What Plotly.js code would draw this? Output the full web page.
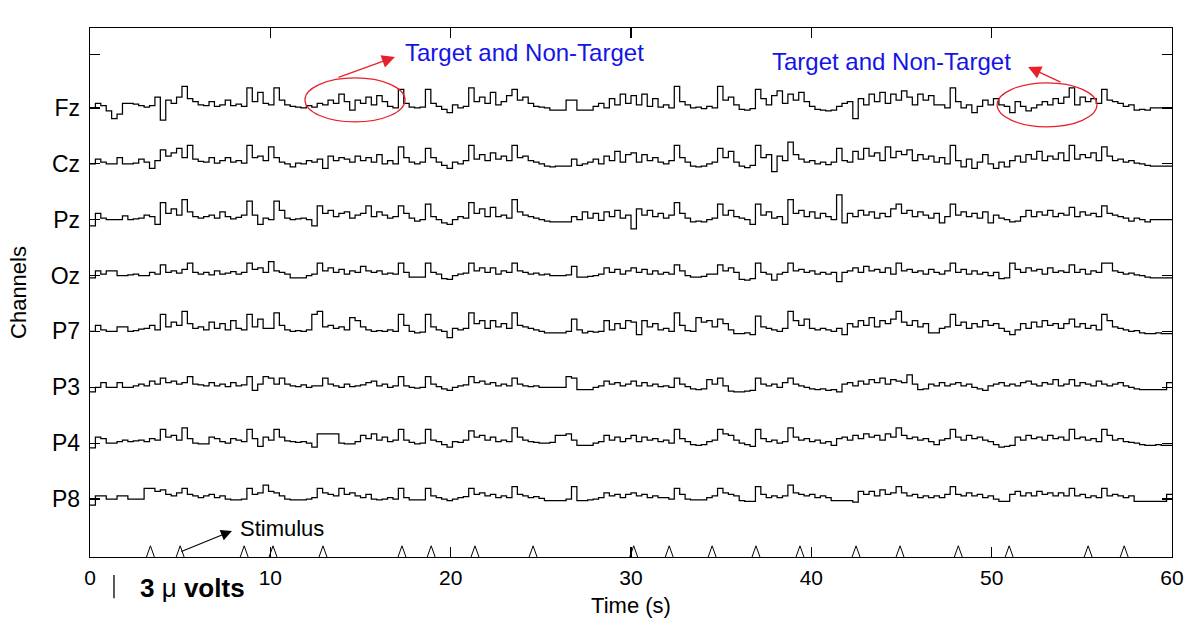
<!DOCTYPE html>
<html><head><meta charset="utf-8">
<script src="https://cdn.plot.ly/plotly-3.0.1.min.js"></script>
<style>html,body{margin:0;padding:0;background:#fff}#chart{width:1200px;height:640px}</style>
</head><body><div id="chart"></div>
<script>
// ---- data (amplitudes in tenths of a microvolt, one sample every 0.3 s) ----
const CHANNELS = ['Fz','Cz','Pz','Oz','P7','P3','P4','P8'];
const SAMPLE_STEP_S = 0.3;
const FZ = [0,6,3,-4,-14,-8,6,6,5,3, 1,3,14,-16,10,6,14,28,12,8, 4,3,8,2,4,10,3,5,2,26, 8,20,6,4,26,10,4,2,1,0,
  3,1,6,4,10,6,18,8,-3,10, 6,14,4,16,8,2,0,24,6,1, 0,1,24,6,2,-2,-6,4,0,2, 26,8,14,6,20,4,8,16,24,10,
  14,6,2,1,0,-3,-3,-3,10,10, -3,-3,-3,2,6,0,12,4,18,6, 16,4,18,2,12,1,4,0,28,8, 4,0,1,-1,2,0,28,10,14,4,
  -2,-3,-1,24,12,4,16,22,6,18, 10,20,8,2,-2,-3,-4,-3,2,6, 8,-14,12,4,18,8,20,6,18,10, 22,14,4,18,10,16,4,4,0,26,
  8,0,4,-6,2,10,4,12,4,2, -6,8,2,-4,0,4,8,4,12,6, 14,26,4,14,8,12,6,24,10,8, 6,2,4,-3,-2,-3,0,0,0,0, 0];
const CZ = [0,6,2,0,0,8,0,0,1,6, 2,-6,4,18,10,14,20,8,24,6, 3,2,8,1,4,8,2,4,1,24, 8,10,4,22,8,2,0,-4,1,0,
  4,2,6,-6,10,4,8,6,2,10, 4,8,2,12,0,4,0,22,8,2, 0,2,20,8,2,-2,-6,2,0,4, 24,6,12,4,14,6,10,4,24,8,
  10,4,2,0,-3,-4,-3,-3,-3,6, -2,0,2,6,0,10,4,16,2,12, 14,2,12,4,8,2,0,4,24,8, 2,-3,-4,-3,0,2,20,8,16,2,
  -3,-5,-2,24,8,12,-10,10,4,28, 12,6,2,4,0,2,-1,2,20,4, 2,16,6,20,10,14,4,22,8,16, 12,18,4,12,6,10,2,8,0,24,
  4,-4,6,-6,2,12,0,-6,2,-4, 4,10,2,12,6,16,4,10,6,14, 4,24,6,12,8,14,4,22,10,4, 6,2,4,1,0,-2,-3,-3,-3,-3, -3];
const PZ = [-8,8,2,0,0,0,5,0,1,2, 6,4,-6,22,8,14,6,26,10,4, 2,4,6,2,10,4,1,3,6,24, 6,-6,2,0,24,12,2,0,1,2,
  0,-8,18,8,12,4,8,10,2,6, 8,18,4,10,6,2,4,18,8,2, -2,0,20,4,0,-4,-6,0,4,2, 22,8,14,4,16,4,6,2,26,10,
  6,4,2,0,-2,-3,-3,-3,-3,4, 0,10,2,8,-1,10,4,12,2,6, -12,14,6,12,4,8,2,6,22,8, 2,-3,-2,-3,0,2,20,6,12,4,
  2,0,-6,20,6,10,2,4,-6,26, 8,12,4,10,2,8,4,0,32,-4, 8,4,12,6,10,2,8,4,14,20, 8,12,4,10,6,2,8,-4,4,20,
  6,10,4,8,2,10,-4,6,2,0, -3,-2,4,12,4,10,6,12,4,8, 6,16,4,10,6,8,4,18,8,6, 4,2,-2,2,0,-3,0,0,0,0, 0];
const OZ = [-3,6,2,6,6,0,0,1,2,0, 0,4,2,14,4,6,3,8,16,4, 2,4,1,6,2,3,5,2,4,16, 8,10,4,18,6,4,2,-3,-3,-3,
  0,2,16,6,10,4,8,2,6,4, 12,6,4,6,2,3,2,16,4,-2, -2,-2,16,4,2,-4,-5,0,2,3, 16,6,10,4,10,2,6,4,16,6,
  4,2,3,1,2,0,0,0,1,12, -2,-2,-1,0,2,10,4,8,2,6, 10,4,8,2,6,2,4,2,14,6, 0,-2,-2,-1,2,2,14,6,10,4,
  -5,-6,-4,16,4,2,-6,2,4,16, 6,8,4,6,2,4,2,4,-8,4, 6,10,4,12,6,8,4,10,2,16, 6,8,4,6,2,8,4,2,6,16,
  4,8,2,6,2,4,0,4,-4,-3, 16,8,4,10,6,8,2,10,4,6, 4,14,4,8,2,6,4,16,16,6, 4,2,3,1,0,-2,-3,-3,-3,-3, -3];
const P7 = [0,8,2,0,0,6,6,0,1,3, 4,8,2,22,6,12,8,26,10,4, 6,2,12,4,10,2,14,4,2,22, 6,16,4,4,24,8,2,0,1,0,
  2,22,26,6,8,4,6,2,18,14, 6,2,0,1,0,2,0,22,8,0, -2,-1,22,6,2,0,-8,4,2,4, 24,10,14,4,14,6,10,4,24,8,
  6,4,2,0,-2,-2,-2,-2,0,16, 2,-2,0,-1,0,14,2,10,4,14, 12,-4,14,6,10,2,4,0,24,8, 1,0,18,12,14,6,16,10,2,-3,
  -3,-2,-4,20,6,4,2,0,4,26, 14,8,16,4,2,4,2,0,4,-4, 10,6,14,8,18,6,14,10,16,26, 12,8,14,6,10,-2,-2,4,6,22,
  8,12,4,10,6,14,8,10,4,0, -4,2,10,4,12,6,14,8,10,4, 10,16,6,10,4,8,2,22,14,6, 4,2,0,1,-2,-3,-3,-2,-3,-3, -3];
const P3 = [-6,0,6,0,0,6,0,0,2,4, 2,8,4,12,6,8,4,6,14,4, 3,2,6,2,4,1,6,2,3,14, -4,4,14,12,4,12,4,2,1,3,
  0,2,2,12,4,2,0,4,1,2, 3,6,8,2,4,0,2,14,2,0, -1,0,14,4,1,-2,-4,0,2,3, 14,6,8,4,6,2,4,2,12,4,
  2,1,2,0,0,0,0,0,14,12, -3,-3,-3,0,2,8,4,6,2,4, 8,2,6,2,4,1,2,0,12,4, 1,-2,-3,-2,10,4,12,2,-5,-6,
  -6,-5,-4,12,4,2,4,0,6,12, 4,2,0,-2,-3,-2,-4,-3,-6,4, 6,2,8,4,10,6,12,4,10,8, 6,16,4,-3,-2,4,2,6,2,4,
  6,2,4,0,-2,-4,2,4,6,2, 4,2,6,8,4,2,6,4,10,2, 4,10,2,6,4,2,8,4,2,4, 6,2,0,-2,-3,-3,-3,-3,-3,6, 6];
const P4 = [-6,8,6,0,0,2,4,2,3,4, 2,6,4,18,8,10,4,20,6,0, -1,-1,8,6,2,0,6,4,2,18, 6,-4,8,4,18,8,3,2,1,2,
  0,-5,12,12,12,12,0,-1,-1,2, 10,6,12,4,8,2,4,18,4,1, -1,0,18,4,2,-2,-5,2,1,4, 16,8,10,4,8,2,4,2,20,8,
  4,2,1,0,0,1,10,10,12,4, -3,-3,-3,0,2,10,4,8,2,6, 10,2,8,4,6,2,4,0,18,6, 2,-2,-3,-2,2,4,18,12,10,4,
  0,-2,-4,18,6,2,4,0,2,20, 8,4,6,2,4,0,2,-3,6,8, 4,10,6,12,8,10,4,12,8,20, 10,6,8,4,6,2,-2,4,6,18,
  8,4,10,6,8,4,2,-2,-5,-4, -3,8,4,10,6,8,4,10,6,8, 4,18,6,8,4,6,2,18,10,4, 6,2,1,0,-2,-3,-3,-2,-3,-3, -3];
const P8 = [-8,4,4,0,0,4,4,0,0,0, 14,14,10,12,6,4,8,14,6,4, 2,4,6,2,4,0,-1,-1,0,14, 6,8,18,10,8,4,0,-1,-1,-1,
  0,2,14,8,6,4,14,6,8,4, 2,6,0,-1,0,2,0,14,2,-1, -1,-1,14,4,2,0,-2,0,2,3, 14,6,8,4,6,2,4,2,16,6,
  4,2,3,1,-2,-2,-2,-2,0,16, -2,-2,-1,0,2,8,4,6,2,6, 8,4,6,2,4,2,2,0,14,6, 0,-1,-1,-1,2,4,14,8,6,4,
  -2,-3,-3,16,6,2,4,2,4,18, 8,6,4,6,2,4,2,-2,-2,-2, -2,-4,10,6,10,4,12,6,8,16, 8,4,6,2,4,2,4,2,6,16,
  6,4,8,4,6,2,4,0,-3,-3, 6,10,4,8,4,10,6,8,4,8, 4,14,4,6,2,4,2,14,4,6, 4,2,4,-3,-3,-3,-3,-3,-3,6, 6];
const STIMULUS_TIMES = [3.35, 5.0, 8.55, 10.15, 12.92, 17.3, 18.92, 21.35, 24.57, 30.15, 32.12, 34.5, 36.93, 39.37, 42.48, 44.92, 48.15, 50.97, 55.35, 57.35];
const X_TICKS = [0, 10, 20, 30, 40, 50, 60];
const SCALE_BAR_UV = 3;

// ---- layout constants ----
const SIGNALS = [FZ, CZ, PZ, OZ, P7, P3, P4, P8];
const Y_MIN = -0.037, Y_MAX = 9.43;
const UNITS_PER_TENTH_UV = 0.0138;   // vertical units (channel spacing = 1) per 0.1 uV
const STIM_HALF_W = 0.22, STIM_H = 0.2;

const traces = [];
SIGNALS.forEach((sig, k) => {
  const level = CHANNELS.length - k;
  traces.push({
    type: 'scatter', mode: 'lines', name: CHANNELS[k],
    x: sig.map((_, i) => +(i * SAMPLE_STEP_S).toFixed(2)),
    y: sig.map(v => level + v * UNITS_PER_TENTH_UV),
    line: {color: '#000', width: 1.25, shape: 'hv'},
    hoverinfo: 'skip'
  });
});
// stimulus markers
const sx = [], sy = [];
STIMULUS_TIMES.forEach(t => {
  sx.push(t - STIM_HALF_W, t, t + STIM_HALF_W, null);
  sy.push(Y_MIN, Y_MIN + STIM_H, Y_MIN, null);
});
traces.push({type: 'scatter', mode: 'lines', name: 'Stimulus', x: sx, y: sy,
  line: {color: '#000', width: 1}, cliponaxis: false, hoverinfo: 'skip'});

const tickvals = CHANNELS.map((_, k) => CHANNELS.length - k).concat([8.95]);
const ticktext = CHANNELS.slice().concat(['']);

const plotH = 640 - 28 - 83;
const barLenPaper = SCALE_BAR_UV * 10 * UNITS_PER_TENTH_UV / (Y_MAX - Y_MIN);
const barTop = -18 / plotH;

const layout = {
  width: 1200, height: 640,
  margin: {l: 90, r: 28, t: 28, b: 83},
  paper_bgcolor: '#fff', plot_bgcolor: '#fff',
  showlegend: false,
  font: {family: 'Liberation Sans, Arial, sans-serif', color: '#000', size: 20},
  xaxis: {
    range: [0, 60], tickvals: X_TICKS, ticks: 'inside', ticklen: 10, tickwidth: 1.2, tickcolor: '#000',
    mirror: 'ticks', showline: true, linecolor: '#000', linewidth: 1.3, showgrid: false, zeroline: false,
    tickfont: {size: 21}, ticklabelstandoff: 1,
    title: {text: 'Time (s)', font: {size: 22}, standoff: 10}
  },
  yaxis: {
    range: [Y_MIN, Y_MAX], tickvals: tickvals, ticktext: ticktext, ticks: 'inside', ticklen: 10,
    tickwidth: 1.2, tickcolor: '#000', mirror: 'ticks', showline: true, linecolor: '#000', linewidth: 1.3,
    showgrid: false, zeroline: false, tickfont: {size: 23}, ticklabelstandoff: 4,
    title: {text: 'Channels', font: {size: 22}, standoff: 18}
  },
  shapes: [
    {type: 'circle', xref: 'x', yref: 'y', x0: 11.92, x1: 17.47, y0: 7.75, y1: 8.537, line: {color: '#e8202a', width: 1.2}},
    {type: 'circle', xref: 'x', yref: 'y', x0: 50.30, x1: 55.84, y0: 7.662, y1: 8.447, line: {color: '#e8202a', width: 1.2}},
    {type: 'line', xref: 'x', yref: 'paper', x0: 1.33, x1: 1.33, y0: barTop, y1: barTop - barLenPaper, line: {color: '#000', width: 1.3}}
  ],
  annotations: [
    {x: 24.12, y: 8.985, xref: 'x', yref: 'y', text: 'Target and Non-Target', showarrow: false,
      font: {size: 24, color: '#1414e6'}},
    {x: 44.42, y: 8.824, xref: 'x', yref: 'y', text: 'Target and Non-Target', showarrow: false,
      font: {size: 24, color: '#1414e6'}},
    {x: 16.91, y: 8.913, xref: 'x', yref: 'y', text: '', showarrow: true, ax: -58, ay: 21,
      arrowhead: 2, arrowsize: 2, arrowwidth: 1.3, arrowcolor: '#e8202a'},
    {x: 52.02, y: 8.734, xref: 'x', yref: 'y', text: '', showarrow: true, ax: 34, ay: 16,
      arrowhead: 2, arrowsize: 2, arrowwidth: 1.3, arrowcolor: '#e8202a'},
    {x: 7.87, y: 0.428, xref: 'x', yref: 'y', text: '', showarrow: true, ax: -52, ay: 21,
      arrowhead: 2, arrowsize: 2, arrowwidth: 1.1, arrowcolor: '#000'},
    {x: 8.21, y: 0.48, xref: 'x', yref: 'y', text: 'Stimulus', showarrow: false, xanchor: 'left',
      font: {size: 22, color: '#000'}},
    {x: 2.66, y: -0.0586, xref: 'x', yref: 'paper', text: '<b>3</b> μ <b>volts</b>', showarrow: false,
      xanchor: 'left', yanchor: 'middle', font: {size: 26, color: '#000'}}
  ]
};

Plotly.newPlot('chart', traces, layout, {displayModeBar: false, staticPlot: true});
</script>
</body></html>
